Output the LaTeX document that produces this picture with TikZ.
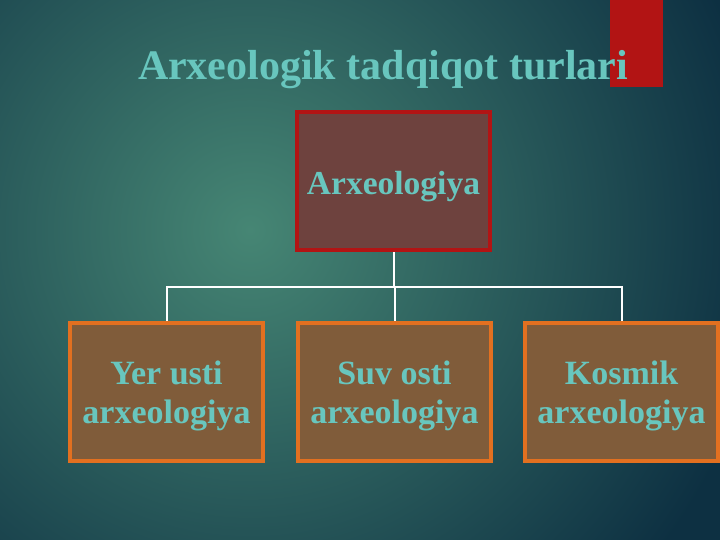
\documentclass[tikz,border=0pt]{standalone}
\usepackage{fontspec}
\setmainfont{Liberation Serif}
\usetikzlibrary {calc}

\definecolor{bgin}{RGB}{70,134,116}
\definecolor{bgout}{RGB}{13,48,66}
\definecolor{slidered}{RGB}{178,20,20}
\definecolor{tealtext}{RGB}{104,198,190}
\definecolor{topfill}{RGB}{110,66,62}
\definecolor{subfill}{RGB}{128,92,58}
\definecolor{suborange}{RGB}{226,112,32}

\newcommand{\firstline}{\rule{0pt}{32pt}}

\begin{document}
\begin{tikzpicture}[x=1pt, y=1pt,
    topbox/.style={draw=slidered, line width=4pt, fill=topfill,
        minimum width=193pt, minimum height=138pt, text=tealtext,
        text height=28pt, text depth=0pt,
        font=\fontsize{33.5}{39}\selectfont\bfseries},
    subbox/.style={draw=suborange, line width=4pt, fill=subfill,
        minimum width=193pt, minimum height=138pt, text=tealtext, align=center,
        font=\fontsize{34}{39}\selectfont\bfseries},
    link/.style={draw=white, line width=2pt}]
    \useasboundingbox (0, 0) rectangle (720, 540);
    \fill[bgout] (0, 0) rectangle (720, 540);
    \begin{scope}
        \clip (0, 0) rectangle (720, 540);
        \shade[inner color=bgin, outer color=bgout] (250, 310) circle (520);
    \end{scope}
    \fill[slidered] (610, 453) rectangle (663, 540);

    \node[anchor=base, text=tealtext, font=\fontsize{42}{48}\selectfont\bfseries]
        (title) at (383, 460) {Arxeologik tadqiqot turlari};

    \node[topbox] (arx) at (393.5, 359) {Arxeologiya};
    \node[subbox] (yer) at (166.5, 148) {\firstline Yer usti\\arxeologiya};
    \node[subbox] (suv) at (394.5, 148) {\firstline Suv osti\\arxeologiya};
    \node[subbox] (kos) at (621.5, 148) {\firstline Kosmik\\arxeologiya};

    \coordinate (bus) at ($(arx.south)+(0,-35)$);

    \draw[link] (arx.south) -- (bus);
    \draw[link] (bus) -| (yer.north);
    \draw[link] (bus) -| (kos.north);
    \draw[link] (bus) -| (suv.north);
\end{tikzpicture}
\end{document}
